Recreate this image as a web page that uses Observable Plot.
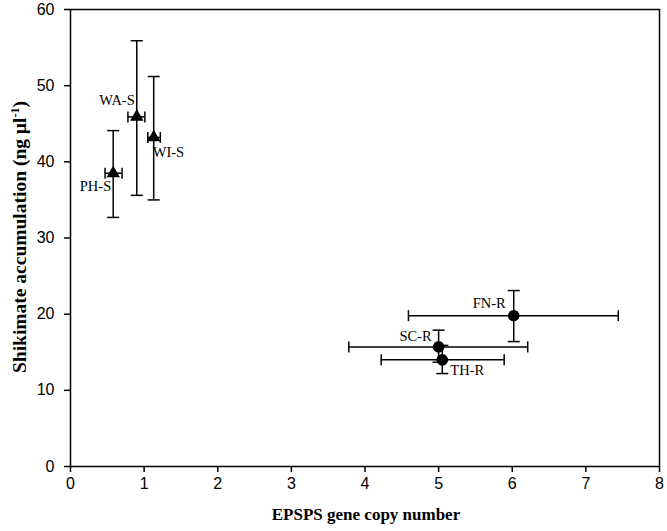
<!DOCTYPE html>
<html>
<head>
<meta charset="utf-8">
<script src="https://cdn.jsdelivr.net/npm/d3@7"></script>
<script src="https://cdn.jsdelivr.net/npm/@observablehq/plot@0.6"></script>
<style>
  html, body { margin: 0; padding: 0; background: #fff; }
  #chart svg { display: block; }
</style>
</head>
<body>
<div id="chart"></div>
<script>
// ---- data ----
const populations = ["PH-S", "WA-S", "WI-S", "FN-R", "SC-R", "TH-R"];
const copyNumber  = [0.58, 0.90, 1.13, 6.02, 5.00, 5.05];
const copyLow     = [0.47, 0.78, 1.05, 4.59, 3.78, 4.22];
const copyHigh    = [0.70, 1.01, 1.22, 7.44, 6.21, 5.89];
const shikimate   = [38.5, 45.9, 43.2, 19.8, 15.7, 14.0];
const shikLow     = [32.7, 35.6, 35.0, 16.4, 13.7, 12.2];
const shikHigh    = [44.1, 55.9, 51.2, 23.1, 17.9, 15.9];
const group       = ["S", "S", "S", "R", "R", "R"];
const xTicks = [0, 1, 2, 3, 4, 5, 6, 7, 8];
const yTicks = [0, 10, 20, 30, 40, 50, 60];
const xTitle = "EPSPS gene copy number";
const yTitle = "Shikimate accumulation (ng µl";
const yTitleSup = "-1";

const data = populations.map((name, i) => ({
  name, x: copyNumber[i], xlo: copyLow[i], xhi: copyHigh[i],
  y: shikimate[i], ylo: shikLow[i], yhi: shikHigh[i], group: group[i]
}));

// label placement (pixel offsets from marker), styling only
const labelPlace = {
  "WA-S": {dx: -2, dy: -17, anchor: "end"},
  "WI-S": {dx: -1, dy: 15, anchor: "start"},
  "PH-S": {dx: -2, dy: 13, anchor: "end"},
  "FN-R": {dx: -8, dy: -12, anchor: "end"},
  "SC-R": {dx: -7, dy: -11, anchor: "end"},
  "TH-R": {dx: 8, dy: 10, anchor: "start"}
};

const hcap = {draw(ctx) { ctx.moveTo(-6, 0); ctx.lineTo(6, 0); }};
const vcap = {draw(ctx) { ctx.moveTo(0, -5.5); ctx.lineTo(0, 5.5); }};

const serif = "'Liberation Serif', 'Times New Roman', serif";
const sans = "'Liberation Sans', Arial, sans-serif";

const labelMarks = Object.entries(labelPlace).map(([name, p]) =>
  Plot.text(data.filter(d => d.name === name), {
    x: "x", y: "y", text: "name", dx: p.dx, dy: p.dy, textAnchor: p.anchor,
    fontSize: 14.5, fontFamily: serif, fill: "black"
  })
);

const chart = Plot.plot({
  width: 667,
  height: 531,
  marginLeft: 70,
  marginRight: 8,
  marginTop: 9,
  marginBottom: 65,
  style: {background: "white", color: "black"},
  x: {domain: [0, 8]},
  y: {domain: [0, 60]},
  marks: [
    Plot.frame({stroke: "black", strokeWidth: 1.5}),
    Plot.axisX({ticks: xTicks, tickSize: 6, tickPadding: 5, fontSize: 16, fontFamily: sans, label: null, strokeWidth: 1.5}),
    Plot.axisY({ticks: yTicks, tickSize: 6, tickPadding: 10, fontSize: 16, fontFamily: sans, label: null, strokeWidth: 1.5}),
    // error bars
    Plot.ruleX(data, {x: "x", y1: "ylo", y2: "yhi", stroke: "black", strokeWidth: 1.5}),
    Plot.ruleY(data, {y: "y", x1: "xlo", x2: "xhi", stroke: "black", strokeWidth: 1.5}),
    Plot.dot(data, {x: "x", y: "ylo", symbol: hcap, stroke: "black", strokeWidth: 1.5, fill: "none"}),
    Plot.dot(data, {x: "x", y: "yhi", symbol: hcap, stroke: "black", strokeWidth: 1.5, fill: "none"}),
    Plot.dot(data, {x: "xlo", y: "y", symbol: vcap, stroke: "black", strokeWidth: 1.5, fill: "none"}),
    Plot.dot(data, {x: "xhi", y: "y", symbol: vcap, stroke: "black", strokeWidth: 1.5, fill: "none"}),
    // markers
    Plot.dot(data.filter(d => d.group === "S"), {x: "x", y: "y", symbol: "triangle", r: 5, fill: "black", stroke: "none"}),
    Plot.dot(data.filter(d => d.group === "R"), {x: "x", y: "y", symbol: "circle", r: 5.8, fill: "black", stroke: "none"}),
    ...labelMarks
  ]
});

document.getElementById("chart").appendChild(chart);

// axis titles
const svg = d3.select(chart);
svg.append("text")
  .attr("x", 366).attr("y", 520)
  .attr("text-anchor", "middle")
  .attr("font-family", serif).attr("font-weight", "bold").attr("font-size", 17)
  .attr("fill", "black")
  .text(xTitle);

const yt = svg.append("text")
  .attr("transform", "translate(26,237) rotate(-90)")
  .attr("text-anchor", "middle")
  .attr("font-family", serif).attr("font-weight", "bold").attr("font-size", 19.5)
  .attr("fill", "black");
yt.append("tspan").text(yTitle);
yt.append("tspan").attr("dy", -7).attr("font-size", 12).text(yTitleSup);
yt.append("tspan").attr("dy", 7).text(")");
</script>
</body>
</html>
